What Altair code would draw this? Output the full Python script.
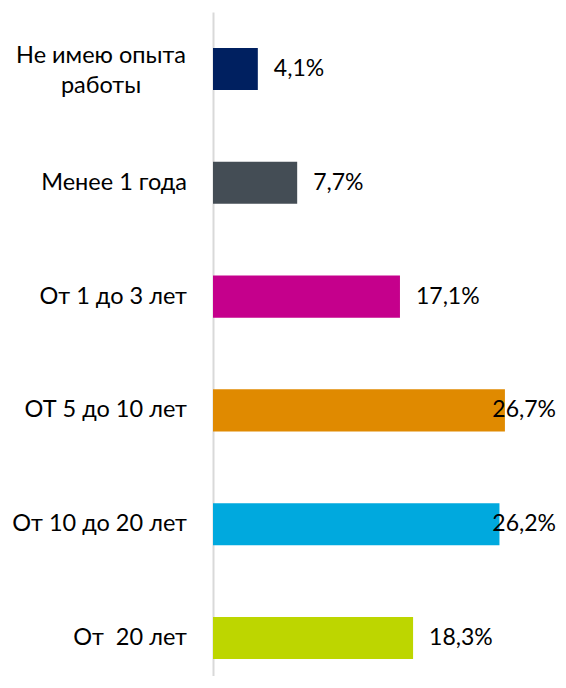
import altair as alt
import pandas as pd

categories = ["Не имею опыта работы", "Менее 1 года", "От 1 до 3 лет",
              "ОТ 5 до 10 лет", "От 10 до 20 лет", "От  20 лет"]
display_labels = ["Не имею опыта\nработы", "Менее 1 года", "От 1 до 3 лет",
                  "ОТ 5 до 10 лет", "От 10 до 20 лет", "От\u00a0\u00a020 лет"]
values = [4.1, 7.7, 17.1, 26.7, 26.2, 18.3]
colors = ["#002060", "#444D55", "#C5008C", "#E08A00", "#00A9DE", "#BDD600"]

value_labels = [f"{v:.1f}%".replace(".", ",") for v in values]

df = pd.DataFrame({
    "cat": categories,
    "disp": display_labels,
    "value": values,
    "lbl": value_labels,
    "multi": ["\n" in d for d in display_labels],
})

FONT = "Lato"
FS_CAT = 23.5
FS_VAL = 23

y_enc = alt.Y("cat:N", sort=categories,
              scale=alt.Scale(paddingInner=0.63, paddingOuter=0.2324, align=0.68),
              axis=alt.Axis(labels=False, ticks=False, title=None,
                            domainColor="#D9D9D9", domainWidth=2))

base = alt.Chart(df)

bars = base.mark_bar().encode(
    y=y_enc,
    x=alt.X("value:Q", scale=alt.Scale(domain=[0, 30]), axis=None),
    color=alt.Color("cat:N", sort=categories,
                    scale=alt.Scale(domain=categories, range=colors), legend=None),
)

lbl_left = base.transform_filter("datum.value < 24").mark_text(
    align="left", baseline="middle", dx=16, font=FONT, fontSize=FS_VAL, color="#000000"
).encode(y=alt.Y("cat:N", sort=categories), x="value:Q", text="lbl:N")

lbl_right = base.transform_filter("datum.value >= 24").mark_text(
    align="right", baseline="middle", font=FONT, fontSize=FS_VAL, color="#000000"
).encode(y=alt.Y("cat:N", sort=categories), x=alt.value(343), text="lbl:N")

cat_single = base.transform_filter("!datum.multi").mark_text(
    align="right", baseline="middle", font=FONT, fontSize=FS_CAT, color="#000000"
).encode(y=alt.Y("cat:N", sort=categories), x=alt.value(-26), text="disp:N")

cat_multi = base.transform_filter("datum.multi").mark_text(
    align="center", baseline="middle", font=FONT, fontSize=FS_CAT, color="#000000",
    lineBreak="\n", lineHeight=30, dy=-13
).encode(y=alt.Y("cat:N", sort=categories), x=alt.value(-112), text="disp:N")

chart = alt.layer(bars, lbl_left, lbl_right, cat_single, cat_multi).properties(
    width=328, height=664,
    autosize=alt.AutoSizeParams(type="none"),
    padding={"left": 205, "top": 4, "right": 17, "bottom": 0},
).configure(background="#FFFFFF").configure_view(strokeWidth=0)

chart.save("out.html", embed_options={"renderer": "svg", "actions": False})
